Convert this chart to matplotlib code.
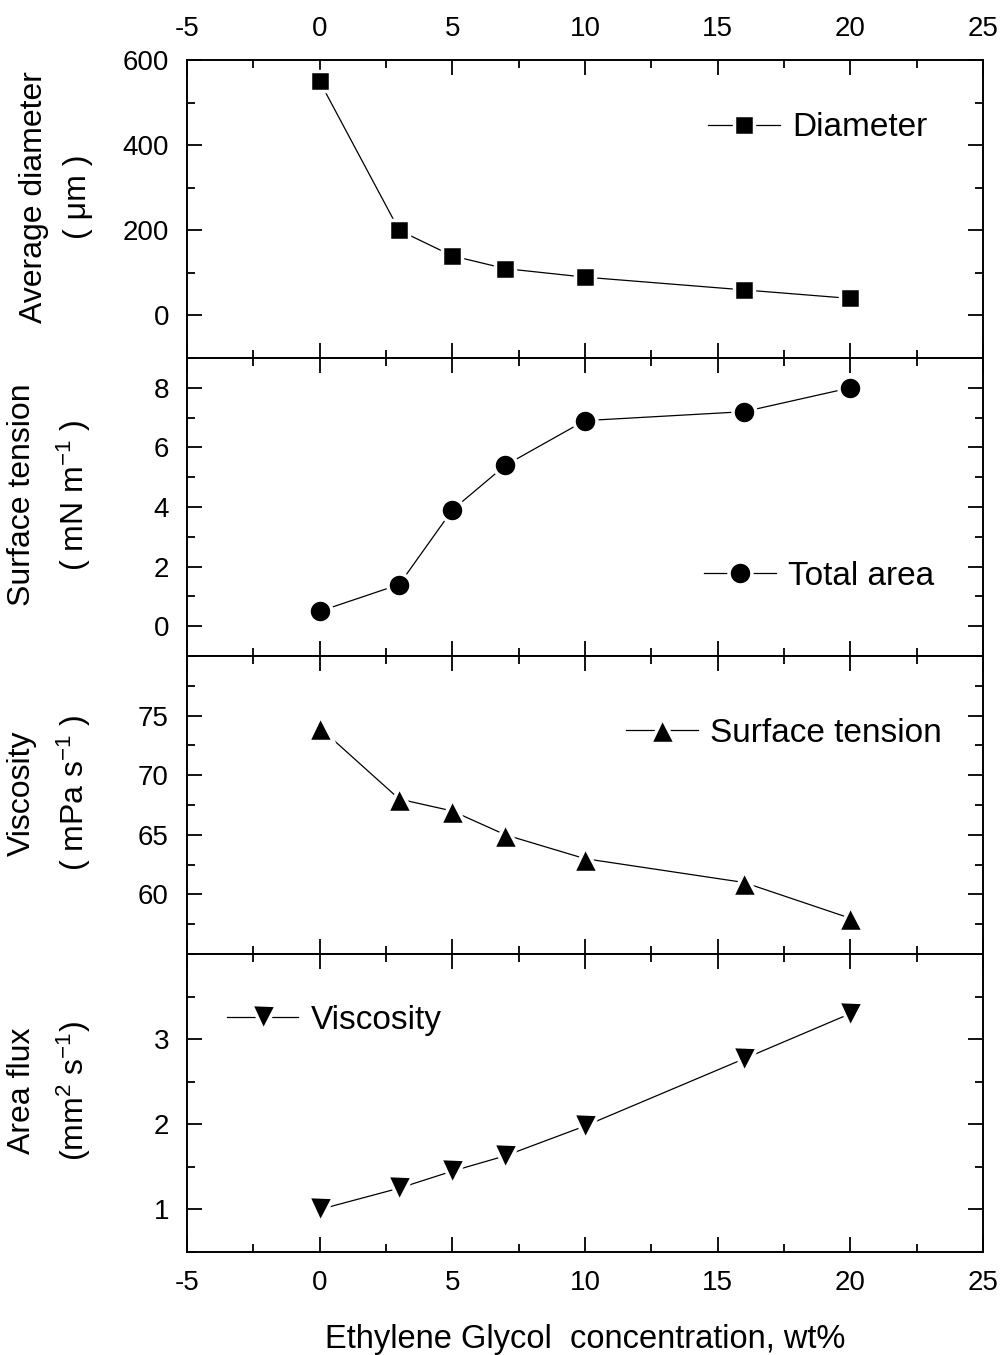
import matplotlib
matplotlib.use("Agg")
import matplotlib.pyplot as plt
from matplotlib.ticker import MultipleLocator, FixedLocator

plt.rcParams["font.family"] = ["Liberation Sans", "DejaVu Sans"]
plt.rcParams["mathtext.fontset"] = "custom"
plt.rcParams["mathtext.rm"] = "Liberation Sans"
plt.rcParams["mathtext.it"] = "Liberation Sans"
plt.rcParams["mathtext.default"] = "regular"
plt.rcParams["axes.unicode_minus"] = False

# Ethylene glycol concentration (wt%)
concentration = [0, 3, 5, 7, 10, 16, 20]

# Measured quantities
diameter = [550, 200, 140, 110, 90, 60, 40]              # um
total_area = [0.5, 1.4, 3.9, 5.4, 6.9, 7.2, 8.0]          # mN m^-1
surface_tension = [74, 68, 67, 65, 63, 61, 58]            # mPa s^-1
area_flux = [1.0, 1.25, 1.45, 1.63, 1.98, 2.77, 3.3]      # mm^2 s^-1

# Labelled y ticks per panel
diameter_ticks = [0, 200, 400, 600]
area_ticks = [0, 2, 4, 6, 8]
tension_ticks = [60, 65, 70, 75]
flux_ticks = [1, 2, 3]

panels = [
    dict(y=diameter, marker="s", ms=15, label="Diameter",
         ylabel="Average diameter\n( \u03bcm )", ylim=(-100, 600),
         ticks=diameter_ticks, minor=100, leg=(0.655, 0.772)),
    dict(y=total_area, marker="o", ms=16.5, label="Total area",
         ylabel="Surface tension\n( mN m$^{-1}$ )", ylim=(-1, 9),
         ticks=area_ticks, minor=1, leg=(0.650, 0.267)),
    dict(y=surface_tension, marker="^", ms=18, label="Surface tension",
         ylabel="Viscosity\n( mPa s$^{-1}$ )", ylim=(55, 80),
         ticks=tension_ticks, minor=2.5, leg=(0.552, 0.741)),
    dict(y=area_flux, marker="v", ms=18, label="Viscosity",
         ylabel="Area flux\n(mm$^{2}$ s$^{-1}$)", ylim=(0.5, 4),
         ticks=flux_ticks, minor=0.5, leg=(0.050, 0.778)),
]

fig = plt.figure(figsize=(10.03, 13.55), dpi=100)
gs = fig.add_gridspec(4, 1, left=0.1864, right=0.980, top=0.9557,
                      bottom=0.076, hspace=0)
axes = [fig.add_subplot(gs[i]) for i in range(4)]

for i, (ax, p) in enumerate(zip(axes, panels)):
    ax.plot(concentration, p["y"], color="black", lw=0.9,
            marker=p["marker"], ms=p["ms"], mfc="black",
            mec="white", mew=2.5, label=p["label"], zorder=3)
    ax.set_xlim(-5, 25)
    ax.set_ylim(*p["ylim"])
    ax.xaxis.set_major_locator(MultipleLocator(5))
    ax.xaxis.set_minor_locator(MultipleLocator(2.5))
    ax.yaxis.set_major_locator(FixedLocator(p["ticks"]))
    ax.yaxis.set_minor_locator(MultipleLocator(p["minor"]))
    ax.tick_params(which="both", direction="in", top=True, right=True,
                   width=1.3, colors="black", labelsize=20, pad=13)
    ax.tick_params(which="major", length=11)
    ax.tick_params(which="minor", length=6)
    ax.tick_params(axis="x", labelbottom=(i == 3), labeltop=(i == 0))
    for s in ax.spines.values():
        s.set_linewidth(1.4)
    ax.set_ylabel(p["ylabel"], fontsize=23, linespacing=1.6,
                  multialignment="center")
    ax.yaxis.set_label_coords(-0.118, 0.54)
    ax.legend(loc="center left", bbox_to_anchor=p["leg"], frameon=False,
              fontsize=24, handlelength=2.15, handletextpad=0.36,
              borderpad=0, borderaxespad=0)

axes[3].set_xlabel("Ethylene Glycol  concentration, wt%", fontsize=23.5,
                   labelpad=20)

fig.savefig("out.png", dpi=100, facecolor="white")
